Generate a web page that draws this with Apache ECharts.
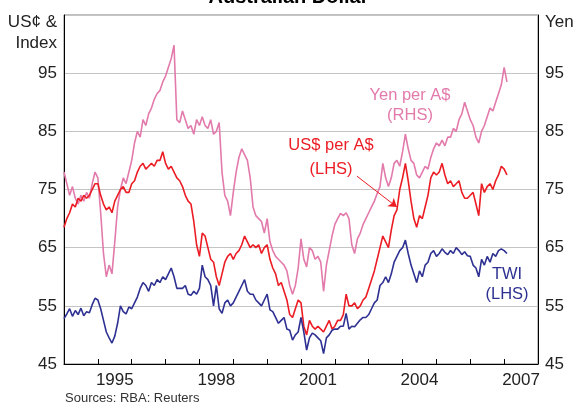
<!DOCTYPE html>
<html>
<head>
<meta charset="utf-8"/>
<title>Australian Dollar</title>
<script src="https://cdn.jsdelivr.net/npm/echarts@6/dist/echarts.min.js"></script>
<style>html,body{margin:0;padding:0;background:#fff;}</style>
</head>
<body>
<div id="main" style="width:577px;height:405px;"></div>
<script type="text/javascript">
// monthly observations, Jan 1994 .. Feb 2007
var startYear = 1994;
var yearLabels = [1995, 1998, 2001, 2004, 2007];

var twi = [
  52.8, 53.6, 54.5, 53.2, 54.2, 53.5, 54.6, 53.3, 54.0, 53.8, 55.2, 56.3,
  56.0, 54.5, 52.5, 50.5, 49.5, 48.6, 49.8, 52.0, 55.0, 54.0, 53.6, 54.8,
  54.5, 55.5, 56.5, 58, 59, 58.5, 57.5, 59, 58.5, 59.5, 59, 60,
  59.5, 60.5, 61.5, 60, 58, 58, 58, 58.5, 57, 56.8, 57.5, 57,
  58, 62, 60, 59.5, 58.5, 55, 58.5, 54.5, 53.7, 55.5, 56, 55,
  55.5, 56.5, 57.5, 58.5, 59.5, 57.5, 57, 57, 56, 55.5, 55, 56,
  57, 54.3, 54, 53, 52, 52.5, 53, 51, 50.8, 49.1, 50, 50.5,
  53, 50.5, 47.4, 49.5, 50.3, 50, 49.5, 49, 46.8, 49.5, 50, 50.8,
  51, 51, 51.5, 51.5, 53.7, 51, 51.5, 51.4, 52, 52.6, 53, 53,
  53.5, 54.5, 55.5, 56, 58.5, 59, 60, 59, 60.5, 62.5, 63.5, 64.5,
  65, 66.3, 64, 62, 60.5, 59, 61, 60, 62, 62.5, 64, 64.5,
  63.5, 64, 64.8, 64.2, 63.8, 64.5, 64, 65, 64.5, 63.8, 64.3, 63.6,
  63.5, 62, 61.5, 60, 63, 62, 63.5, 62.5, 64, 63.5, 64.5, 64.8,
  64.5, 64
];

var usd = [
  68.5, 70, 71, 72.5, 72, 73.5, 73, 74, 73.5, 74, 75, 76,
  76, 74, 72.5, 71.5, 72, 71, 73, 74, 75, 75.5, 74.5, 74.5,
  76, 76.5, 78, 79, 79.5, 78.5, 79, 79.5, 79, 80, 80, 81.5,
  79.5, 78.5, 79, 78, 77, 76.5, 75.5, 74, 73, 72.5, 69.5, 65.5,
  63.5, 67.5, 67, 65, 63, 62.5, 60, 58.5, 60.5, 62.5, 63.5, 64,
  63, 64, 64.5, 65.5, 67, 66, 65, 65.5, 65, 65.5, 64, 65,
  65.5, 63, 61.5, 60.5, 58.5, 59, 57.5, 56, 53.5, 53, 54.5, 56,
  55.5, 51.5, 50, 52.5, 51.5, 51, 51.5, 51, 50.5, 51.5, 52.5, 51,
  51.5, 52.5, 52.5, 53.5, 57, 55, 55, 55.5, 54.5, 55, 56, 56.5,
  58, 59.5, 61, 63, 65, 67, 66, 65, 68, 70.5, 71.5, 75,
  77, 79.5, 76.5, 73, 70, 68.5, 70.5, 70, 72, 74, 77, 78,
  77.5, 78, 79.5, 77.5, 76, 76.5, 75.5, 76, 76.5, 74.5, 73.5, 73.5,
  74, 74.5, 72.5, 70.5, 76, 74.5, 75.5, 76, 75, 76.5, 77.5, 79,
  78.5, 77.5
];

var yen = [
  78, 76, 74, 75.5, 73.5, 72.5, 74, 73, 74.5, 73.5, 76, 78,
  77, 71, 64, 60, 62, 60.5, 66, 72, 75, 77, 76, 78,
  80, 83, 85, 84, 87, 86, 88, 89, 90.5, 91.5, 92, 93.5,
  94.5, 96, 97.5, 99.8, 87, 86.5, 88.5, 87, 85.5, 86, 84.5, 87,
  86, 87.5, 86, 85.5, 87, 84.5, 85, 86.5, 78, 74, 73, 70.5,
  74.5, 78, 80.5, 82, 81, 80, 77, 72, 70.5, 70, 69.5, 67.5,
  70, 66, 64.5, 63.5, 63, 62.5, 62, 61, 58.5, 57, 58.5, 61.5,
  66.5, 63, 61.7, 65, 64.5, 63, 63.5, 62.5, 57.5, 62, 64.5, 67,
  69, 70, 70.9, 70.5, 71, 70, 65.5, 64, 66.5, 67.5, 69, 70,
  71, 72, 73, 74.3, 75.5, 79.5, 77, 75.5, 77, 79.5, 80, 79,
  81.5, 84.5, 82, 80, 79.5, 77.5, 77, 78, 79, 78.5, 80.5, 82,
  83, 82.5, 83.5, 82.5, 84, 84, 85.5, 85, 87, 88, 90, 88.5,
  87, 86, 84, 83, 85, 86, 87.5, 89, 88.5, 90, 91.5, 93,
  96, 93.5
];

var pink = '#e27aab', red = '#ec1c24', navy = '#2e3192';
var font = "'Liberation Sans', Arial, sans-serif";

function toPairs(arr) {
  return arr.map(function (v, i) { return [startYear + i / 12, v]; });
}

var myChart = echarts.init(document.getElementById('main'));

var yAxisCommon = {
  type: 'value', min: 45, max: 105, interval: 10,
  axisLine: { show: true, lineStyle: { color: '#000', width: 1 } },
  axisTick: { show: false },
  axisLabel: {
    fontSize: 17, color: '#222', fontFamily: font, margin: 7,
    formatter: function (v) { return v === 105 ? '' : v; }
  }
};

var option = {
  animation: false,
  backgroundColor: '#fff',
  grid: { left: 64, right: 39, top: 15, bottom: 41, show: true, borderColor: '#808080', borderWidth: 1 },
  xAxis: [
    {
      type: 'value', min: 1994, max: 2008, interval: 1,
      axisLine: { show: true, onZero: false, lineStyle: { color: '#000', width: 1 } },
      axisTick: { show: true, inside: true, length: 5, lineStyle: { color: '#000' } },
      axisLabel: { show: false },
      splitLine: { show: false }
    },
    {
      type: 'value', min: 1994, max: 2008, interval: 0.5, position: 'bottom',
      axisLine: { show: false }, axisTick: { show: false }, splitLine: { show: false },
      axisLabel: {
        fontSize: 17, color: '#222', fontFamily: font, margin: 8,
        formatter: function (v) {
          var y = v - 0.5;
          return yearLabels.indexOf(y) >= 0 ? String(y) : '';
        }
      }
    }
  ],
  yAxis: [
    Object.assign({}, yAxisCommon, {
      position: 'left',
      splitLine: { show: true, lineStyle: { color: '#c4c4c4', width: 1 } }
    }),
    Object.assign({}, yAxisCommon, {
      position: 'right',
      splitLine: { show: false }
    })
  ],
  series: [
    {
      name: 'Yen per A$', type: 'line', yAxisIndex: 1, data: toPairs(yen),
      showSymbol: false, lineStyle: { color: pink, width: 1.6 }, itemStyle: { color: pink }
    },
    {
      name: 'US$ per A$', type: 'line', yAxisIndex: 0, data: toPairs(usd),
      showSymbol: false, lineStyle: { color: red, width: 1.6 }, itemStyle: { color: red },
      markLine: {
        silent: true, symbol: ['none', 'arrow'], symbolSize: 8,
        label: { show: false },
        lineStyle: { color: red, width: 1, type: 'solid' },
        data: [[{ coord: [2002.65, 77.3] }, { coord: [2003.83, 72.0] }]]
      }
    },
    {
      name: 'TWI', type: 'line', yAxisIndex: 0, data: toPairs(twi),
      showSymbol: false, lineStyle: { color: navy, width: 1.6 }, itemStyle: { color: navy }
    }
  ],
  graphic: [
    { type: 'text', left: 'center', top: -13, style: { text: 'Australian Dollar', font: 'bold 20px ' + font, fill: '#000' } },
    { type: 'text', x: 57, y: 22, style: { text: 'US¢ &', font: '17px ' + font, fill: '#222', align: 'right', verticalAlign: 'middle' } },
    { type: 'text', x: 57, y: 43, style: { text: 'Index', font: '17px ' + font, fill: '#222', align: 'right', verticalAlign: 'middle' } },
    { type: 'text', x: 545, y: 22, style: { text: 'Yen', font: '17px ' + font, fill: '#222', align: 'left', verticalAlign: 'middle' } },
    { type: 'text', x: 410, y: 95, style: { text: 'Yen per A$', font: '16.5px ' + font, fill: pink, align: 'center', verticalAlign: 'middle' } },
    { type: 'text', x: 410, y: 115, style: { text: '(RHS)', font: '16.5px ' + font, fill: pink, align: 'center', verticalAlign: 'middle' } },
    { type: 'text', x: 331, y: 145, style: { text: 'US$ per A$', font: '16.5px ' + font, fill: red, align: 'center', verticalAlign: 'middle' } },
    { type: 'text', x: 331, y: 169, style: { text: '(LHS)', font: '16.5px ' + font, fill: red, align: 'center', verticalAlign: 'middle' } },
    { type: 'text', x: 507, y: 274, style: { text: 'TWI', font: '16.5px ' + font, fill: navy, align: 'center', verticalAlign: 'middle' } },
    { type: 'text', x: 507, y: 294, style: { text: '(LHS)', font: '16.5px ' + font, fill: navy, align: 'center', verticalAlign: 'middle' } },
    { type: 'text', x: 65, y: 398, style: { text: 'Sources: RBA: Reuters', font: '13px ' + font, fill: '#333', align: 'left', verticalAlign: 'middle' } }
  ]
};

myChart.setOption(option);
</script>
</body>
</html>
